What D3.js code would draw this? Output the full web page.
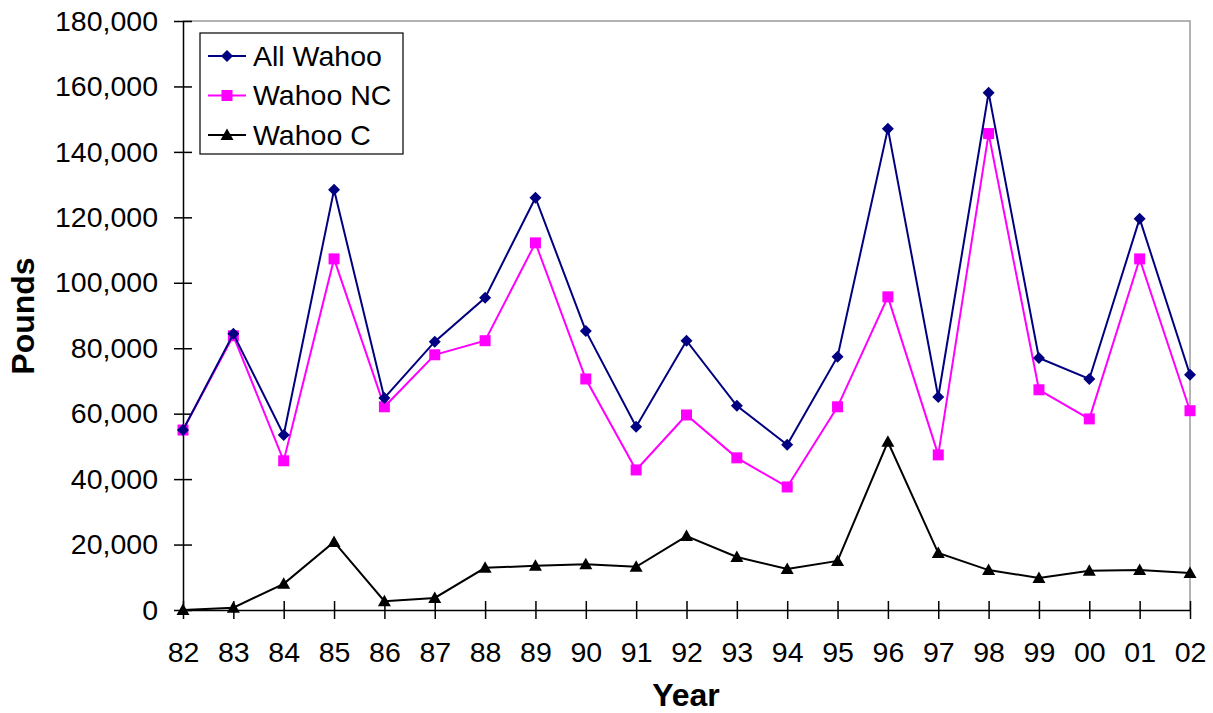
<!DOCTYPE html>
<html>
<head>
<meta charset="utf-8">
<script src="https://cdn.jsdelivr.net/npm/d3@7/dist/d3.min.js"></script>
<style>
  body { margin: 0; background: #fff; }
  svg { display: block; font-family: "Liberation Sans", Arial, sans-serif; }
</style>
</head>
<body>
<svg id="chart" width="1213" height="713"></svg>
<script>
// Wahoo landings by year (pounds)
const years = ["82","83","84","85","86","87","88","89","90","91","92","93","94","95","96","97","98","99","00","01","02"];
const allWahoo = [55000,84400,53500,128400,64800,82000,95400,126000,85300,56000,82300,62400,50500,77400,147100,65100,158100,77000,70600,119600,71900];
const wahooNC  = [55000,83800,45600,107300,62100,78000,82300,112200,70600,42800,59600,46500,37600,62100,95700,47400,145600,67300,58400,107300,60900];
const wahooC   = [0,700,8000,20800,2700,3700,12900,13500,14000,13200,22600,16200,12500,15000,51400,17400,12200,9800,12000,12200,11300];
const yTicks = [0,20000,40000,60000,80000,100000,120000,140000,160000,180000];

const series = [
  { name: "All Wahoo", values: allWahoo, color: "#000080", marker: "diamond" },
  { name: "Wahoo NC",  values: wahooNC,  color: "#ff00ff", marker: "square" },
  { name: "Wahoo C",   values: wahooC,   color: "#000000", marker: "triangle" }
];

const svg = d3.select("#chart");
const plotL = 183, plotR = 1190, plotT = 21, plotB = 610;
const font = "Liberation Sans, Arial, sans-serif";

const x = d3.scalePoint().domain(years).range([plotL, plotR]);
const y = d3.scaleLinear().domain([0, 180000]).range([plotB, plotT]);

// plot frame (top and right edges)
svg.append("path")
  .attr("d", `M${plotL},${plotT}H${plotR}V${plotB}`)
  .attr("fill", "none").attr("stroke", "#9a9a9a").attr("stroke-width", 1.5);

// y axis
const yAxis = svg.append("g").attr("transform", `translate(${plotL},0)`)
  .call(d3.axisLeft(y).tickValues(yTicks).tickFormat(d3.format(",")).tickSize(0).tickPadding(25));
yAxis.select(".domain").attr("stroke", "#000").attr("stroke-width", 1.5);
yAxis.selectAll(".tick line").remove();
yAxis.selectAll(".tick").append("line")
  .attr("x1", -9).attr("x2", 9).attr("stroke", "#000").attr("stroke-width", 1.5);
yAxis.selectAll(".tick text").attr("font-size", 28.5).attr("fill", "#000")
  .attr("font-family", font);

// x axis
const xAxis = svg.append("g").attr("transform", `translate(0,${plotB})`)
  .call(d3.axisBottom(x).tickSize(0).tickPadding(32));
xAxis.select(".domain").attr("stroke", "#000").attr("stroke-width", 1.5);
xAxis.selectAll(".tick line").remove();
xAxis.selectAll(".tick").append("line")
  .attr("y1", -9).attr("y2", 9).attr("stroke", "#000").attr("stroke-width", 1.5);
xAxis.selectAll(".tick text").attr("font-size", 28.5).attr("fill", "#000")
  .attr("font-family", font);

// axis titles
svg.append("text").attr("x", 686).attr("y", 706)
  .attr("text-anchor", "middle").attr("font-size", 32).attr("font-weight", "bold")
  .text("Year");
svg.append("text").attr("transform", "translate(34,316) rotate(-90)")
  .attr("text-anchor", "middle").attr("font-size", 32).attr("font-weight", "bold")
  .text("Pounds");

// marker shapes
function markerPath(type) {
  if (type === "diamond") return "M0,-6L6,0L0,6L-6,0Z";
  if (type === "square") return "M-5.5,-5.5H5.5V5.5H-5.5Z";
  return "M0,-6.5L6.5,5H-6.5Z";
}

const line = d3.line().x((d, i) => x(years[i])).y(d => y(d));

// draw lines bottom-up so All Wahoo sits on top
[...series].reverse().forEach(s => {
  const g = svg.append("g");
  g.append("path").datum(s.values).attr("d", line)
    .attr("fill", "none").attr("stroke", s.color).attr("stroke-width", 2);
  g.selectAll("path.m").data(s.values).join("path").attr("class", "m")
    .attr("transform", (d, i) => `translate(${x(years[i])},${y(d)})`)
    .attr("d", markerPath(s.marker)).attr("fill", s.color);
});

// legend
const lg = svg.append("g");
lg.append("rect").attr("x", 200).attr("y", 33).attr("width", 203).attr("height", 121)
  .attr("fill", "#fff").attr("stroke", "#000").attr("stroke-width", 1.2);
series.forEach((s, i) => {
  const cy = 56 + i * 39.5;
  lg.append("line").attr("x1", 208).attr("x2", 246).attr("y1", cy).attr("y2", cy)
    .attr("stroke", s.color).attr("stroke-width", 2);
  lg.append("path").attr("transform", `translate(227,${cy})`)
    .attr("d", markerPath(s.marker)).attr("fill", s.color);
  lg.append("text").attr("x", 253).attr("y", cy + 9.5).attr("font-size", 28.5).text(s.name);
});
</script>
</body>
</html>
